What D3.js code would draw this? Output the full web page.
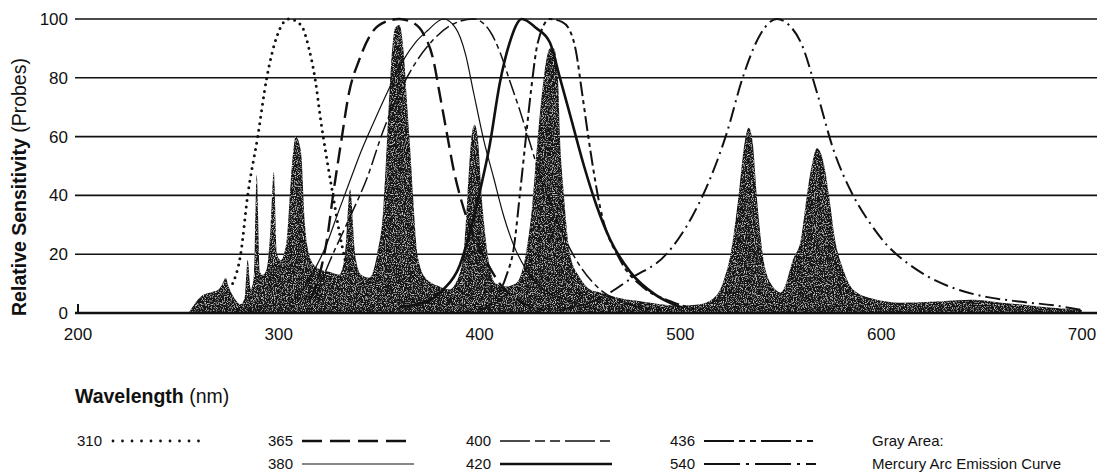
<!DOCTYPE html>
<html>
  <head>
    <meta charset="utf-8">
    <title>Probe sensitivity</title>
    <style media="screen">
    body{margin: 0; background: #fff}
    text {font-family: "Liberation Sans", Arial, sans-serif; fill: #111}
    </style>
  </head>
  <body>

    <script src="https://d3js.org/d3.v7.min.js"></script>

    <script type="text/javascript">
      var w = 1110, h = 472

      var xTicks = [200, 300, 400, 500, 600, 700]
      var yTicks = [0, 20, 40, 60, 80, 100]

      // [wavelength nm, relative sensitivity %]
      var p310 = [[277,10],[281,20],[284.5,40],[289.5,60],[294,80],[299,94],[305,100],[311,98],[315,90],[318,80],[321,65],[324,52],[327,40],[330,28],[333,18]]
      var p365 = [[316,5],[321,15],[324,25],[327,40],[331,58],[335,75],[340,86],[346,95],[353,99],[360,100],[366,99],[372,95],[377,86],[380,75],[384,60],[387,49],[391,38],[396,28],[403,18],[410,10],[420,4],[432,1]]
      var p380 = [[305,3],[312,8],[318,15],[323,22],[330,35],[336,46],[341,55],[348,66],[354,75],[362,86],[368,92],[374,96],[382,100],[388,97],[393,88],[397,75],[402,59],[407,46],[412,33],[417,23],[423,15],[432,8],[445,4],[460,1]]
      var p400 = [[318,5],[325,17],[335,32],[344,46],[352,62],[360,75],[368,85],[377,93],[386,98],[397,100],[405,96],[410,89],[415,79],[420,69],[425,58],[430,47],[436,36],[442,26],[450,16],[460,8],[475,3],[490,1]]
      var p420 = [[360,2],[374,4],[382,8],[390,16],[395,27],[400,41],[405,57],[410,78],[415,92],[421,100],[428,97],[435,92],[440,80],[446,65],[452,50],[458,37],[465,25],[475,14],[488,6],[500,2]]
      var p436 = [[400,1],[408,5],[413.5,13],[417,22],[420,40],[422.5,56],[425.5,75],[429,92],[435,100],[441,99],[445,96],[448,89],[451,75],[455,56],[460,36],[470,18],[481,9],[495,4],[510,1]]
      var p540 = [[440,1],[460,5],[476,12],[493,20],[506,33],[515,46],[523,61],[531,80],[540,95],[548,100],[554,98],[560,92],[568,75],[576,56],[586,40],[594,31],[603,23],[613,17],[623,12.5],[638,8],[653,5.4],[670,3.8],[686,2.6],[700,1]]

      // mercury arc emission (gray area)
      var hgArc = [[255,0],[258,3],[262,6],[266,7],[270,8],[272,10],[273.5,12],[275,9],[277,6],[279,4],[281,3],
        [283,5],[284.5,18],[286,8],[287.5,12],[289,47],[290.5,14],[292,13],[294,15],[296,30],[297.5,48],[299,20],[301,18],
        [304,25],[306,45],[308.5,60],[311,55],[313,30],[316,18],[320,15],[325,14],[330,13],[333,20],[335.5,42],[338,20],
        [341,13],[345,12],[349,20],[352,35],[354,60],[356,85],[358,97],[360,98],[362,90],[364,70],[365.5,55],[367,38],
        [369,20],[373,12],[380,9],[385,8],[388,10],[392,20],[394,40],[396,60],[397.5,64],[399,60],[401,40],[404,20],
        [408,10],[413,9],[418,10],[423,20],[426,35],[429,60],[432,80],[435,90],[437,90],[439,80],[440,60],[442,40],
        [445,20],[450,12],[455,8],[460,7],[470,5],[480,4],[490,3],[500,2.5],[510,3],[518,6],[522,12],[525,20],[529,40],
        [532,58],[534,63],[536,58],[538,40],[541,20],[545,10],[550,7],[552,9],[556,18],[560,25],[563,40],[566,52],
        [568,56],[571,52],[574,40],[577,25],[581,15],[586,8],[595,5],[610,3.5],[630,4],[645,4.5],[660,3.5],[675,2.5],
        [690,1.5],[700,1]]

      var probes = [
        {name: '310', pts: p310, dash: '0 6.5', width: 3, cap: 'round', legDash: '0 9.5'},
        {name: '365', pts: p365, dash: '16 7', width: 2.4, legDash: '20 8'},
        {name: '380', pts: p380, dash: null, width: 1.2},
        {name: '400', pts: p400, dash: '16 4 5 4', width: 1.5, legDash: '30 5 10 5 10 5'},
        {name: '420', pts: p420, dash: null, width: 2.6},
        {name: '436', pts: p436, dash: '15 4 4 4 4 4', width: 2, legDash: '30 5 6 5 6 5'},
        {name: '540', pts: p540, dash: '15 5 2 5', width: 2, legDash: '36 6 3 6'}
      ]

      var x = d3.scaleLinear().domain([200, 700]).range([78, 1082])
      var y = d3.scaleLinear().domain([0, 100]).range([313, 19])

      var svg = d3.select('body').append('svg')
        .attr('width', w)
        .attr('height', h)

      var defs = svg.append('defs')
      var f = defs.append('filter').attr('id', 'grain')
        .attr('x', 0).attr('y', 0).attr('width', 1).attr('height', 1)
      f.append('feTurbulence').attr('type', 'fractalNoise')
        .attr('baseFrequency', 0.9).attr('numOctaves', 2).attr('seed', 4).attr('result', 'n')
      f.append('feColorMatrix').attr('in', 'n').attr('type', 'matrix')
        .attr('values', '0 0 0 0 0.75  0 0 0 0 0.75  0 0 0 0 0.75  0 0 0 -3 1.45').attr('result', 'spk')
      f.append('feComposite').attr('in', 'spk').attr('in2', 'SourceGraphic').attr('operator', 'in').attr('result', 'spk2')
      var m = f.append('feMerge')
      m.append('feMergeNode').attr('in', 'SourceGraphic')
      m.append('feMergeNode').attr('in', 'spk2')

      // grid
      svg.append('g').selectAll('line')
        .data(yTicks.filter(function(d){ return d > 0 }))
        .enter().append('line')
          .attr('x1', 75).attr('x2', 1097)
          .attr('y1', function(d){ return y(d) })
          .attr('y2', function(d){ return y(d) })
          .attr('stroke', '#111')
          .attr('stroke-width', 1.6)

      // emission area
      var area = d3.area()
        .x(function(d){ return x(d[0]) })
        .y0(y(0))
        .y1(function(d){ return y(d[1]) })
        .curve(d3.curveMonotoneX)

      svg.append('path')
        .datum(hgArc)
        .attr('d', area)
        .attr('fill', '#141414')
        .attr('filter', 'url(#grain)')

      var line = d3.line()
        .x(function(d){ return x(d[0]) })
        .y(function(d){ return y(d[1]) })
        .curve(d3.curveMonotoneX)

      svg.append('g').selectAll('path')
        .data(probes)
        .enter().append('path')
          .attr('d', function(d){ return line(d.pts) })
          .attr('fill', 'none')
          .attr('stroke', '#111')
          .attr('stroke-width', function(d){ return d.width })
          .attr('stroke-dasharray', function(d){ return d.dash })
          .attr('stroke-linecap', function(d){ return d.cap || 'butt' })

      // baseline + little tick at 200
      svg.append('line')
        .attr('x1', 75).attr('x2', 1097)
        .attr('y1', y(0)).attr('y2', y(0))
        .attr('stroke', '#111').attr('stroke-width', 2.6)
      svg.append('line')
        .attr('x1', x(200)).attr('x2', x(200))
        .attr('y1', y(0) - 9).attr('y2', y(0))
        .attr('stroke', '#111').attr('stroke-width', 2)

      // tick labels
      svg.append('g').selectAll('text')
        .data(yTicks)
        .enter().append('text')
          .attr('x', 68)
          .attr('y', function(d){ return y(d) + 6 })
          .attr('text-anchor', 'end')
          .style('font-size', '17px')
          .text(function(d){ return d })

      svg.append('g').selectAll('text')
        .data(xTicks)
        .enter().append('text')
          .attr('x', function(d){ return x(d) })
          .attr('y', 340)
          .attr('text-anchor', 'middle')
          .style('font-size', '17px')
          .text(function(d){ return d })

      var yt = svg.append('text')
        .attr('transform', 'translate(26,' + 187 + ') rotate(-90)')
        .attr('text-anchor', 'middle')
        .style('font-size', '19.5px')
      yt.append('tspan').style('font-weight', 'bold').text('Relative Sensitivity')
      yt.append('tspan').text(' (Probes)')

      var xt = svg.append('text')
        .attr('x', 75).attr('y', 403)
        .style('font-size', '19.5px')
      xt.append('tspan').style('font-weight', 'bold').text('Wavelength')
      xt.append('tspan').text(' (nm)')

      // legend
      var legendPos = {
        '310': [77, 446], '365': [268, 446], '400': [466, 446], '436': [670, 446],
        '380': [268, 469], '420': [466, 469], '540': [670, 469]
      }
      var lg = svg.append('g').selectAll('g')
        .data(probes)
        .enter().append('g')
          .attr('transform', function(d){ return 'translate(' + legendPos[d.name] + ')' })
      lg.append('text')
        .style('font-size', '15px')
        .text(function(d){ return d.name })
      lg.append('line')
        .attr('x1', function(d){ return d.name == '310' ? 36 : 34 })
        .attr('x2', function(d){ return d.name == '310' ? 128 : 146 })
        .attr('y1', -5).attr('y2', -5)
        .attr('stroke', '#111')
        .attr('stroke-width', function(d){ return d.name == '310' ? 2.8 : Math.min(d.width, 2.4) })
        .attr('stroke-dasharray', function(d){ return d.legDash || d.dash })
        .attr('stroke-linecap', function(d){ return d.cap || 'butt' })

      svg.append('text').attr('x', 872).attr('y', 446).style('font-size', '15px').text('Gray Area:')
      svg.append('text').attr('x', 872).attr('y', 469).style('font-size', '15px').text('Mercury Arc Emission Curve')

    </script>

  </body>
</html>
